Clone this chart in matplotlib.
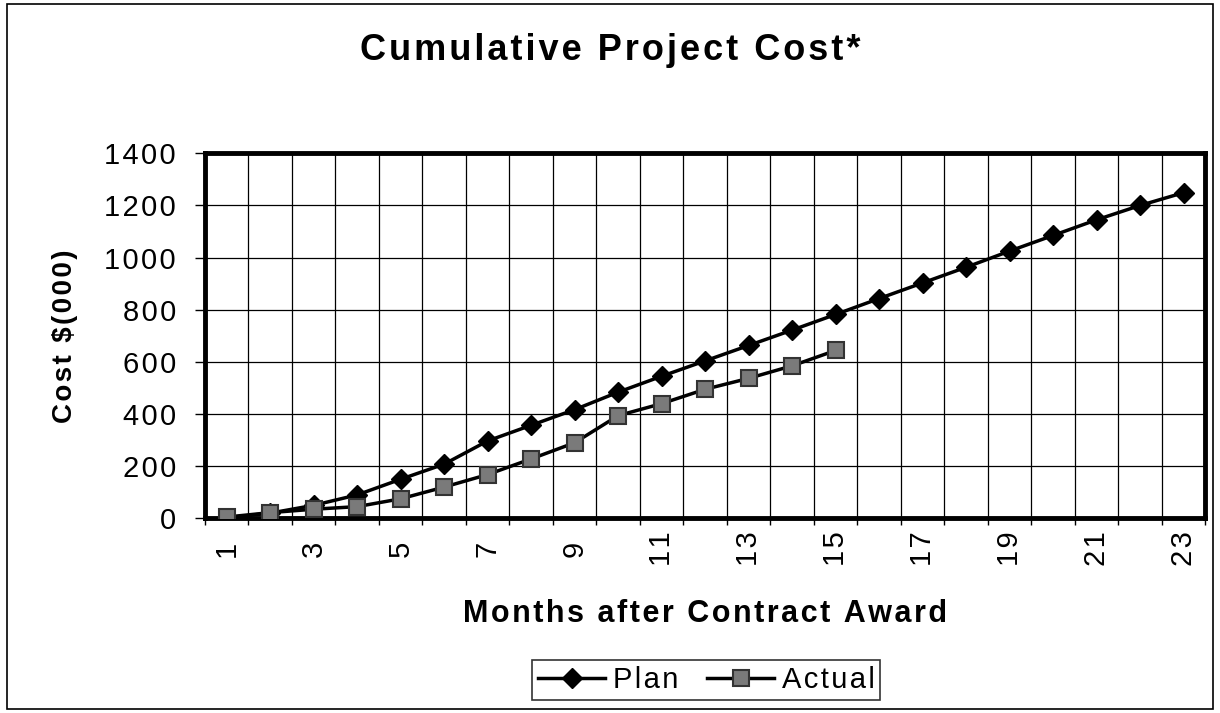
import numpy as np
import matplotlib
matplotlib.use("Agg")
import matplotlib.pyplot as plt
from matplotlib.patches import Rectangle
from matplotlib.ticker import FixedLocator, NullFormatter

# --- data ---
months = list(range(1, 24))
plan = [2, 20, 50, 90, 150, 208, 297, 357, 417, 484, 545, 604, 663, 722, 782,
        843, 903, 963, 1025, 1085, 1145, 1200, 1249]
actual = [5, 22, 35, 45, 75, 120, 168, 228, 290, 394, 440, 495, 537, 585, 644]
y_ticks = [0, 200, 400, 600, 800, 1000, 1200, 1400]

plt.rcParams['font.family'] = ['Liberation Sans', 'DejaVu Sans']

# the original uses slightly tracked lettering; fake it with a hair space between letters
HAIR = '\u200a'


def track(s, gap=HAIR):
    return gap.join(s)


fig = plt.figure(figsize=(12.2, 7.13), dpi=100)
ax = fig.add_axes([0.168, 0.273, 0.820, 0.512])

ax.plot(months, plan, color='black', lw=2.5, marker='D', ms=10.5,
        mfc='black', mec='black', label=track('Plan'), zorder=4)
ax.plot(months[:len(actual)], actual, color='black', lw=2.5, marker='s', ms=11,
        mfc='#7a7a7a', mec='#333333', mew=1.5, label=track('Actual'), zorder=5)

ax.set_xlim(0.5, len(months) + 0.5)
ax.set_ylim(0, 1400)

# category labels in the middle, grid/ticks on the boundaries
ax.xaxis.set_major_locator(FixedLocator(months))
ax.set_xticklabels([track(str(m)) if m % 2 == 1 else '' for m in months],
                   rotation=90, fontsize=21)
for lbl in ax.get_xticklabels():
    lbl.set_va('center')
ax.xaxis.set_minor_locator(FixedLocator(np.arange(0.5, len(months) + 1, 1)))
ax.xaxis.set_minor_formatter(NullFormatter())
ax.tick_params(axis='x', which='major', length=0, pad=22)
ax.tick_params(axis='x', which='minor', length=5, width=1, color='black')

ax.set_yticks(y_ticks)
ax.set_yticklabels([track(str(v)) for v in y_ticks])
ax.tick_params(axis='y', which='major', length=7, width=1, labelsize=21, pad=14)

ax.grid(True, which='minor', axis='x', color='black', lw=0.9)
ax.grid(True, which='major', axis='y', color='black', lw=0.9)
ax.set_axisbelow(True)

for s in ax.spines.values():
    s.set_linewidth(3.5)
    s.set_color('black')

ax.set_xlabel(track('Months after Contract Award'), fontsize=22,
              fontweight='bold', va='baseline')
ax.xaxis.set_label_coords(0.5, -0.285)
ax.set_ylabel(track('Cost $(000)'), fontsize=20, fontweight='bold')
ax.yaxis.set_label_coords(-0.127, 0.5)

fig.text(0.5, 0.916, track('Cumulative Project Cost*'), ha='center',
         va='baseline', fontsize=26, fontweight='bold')

leg = fig.legend(loc='center', bbox_to_anchor=(0.579, 0.046), ncol=2,
                 fontsize=21, frameon=True, fancybox=False, handlelength=2.3,
                 handletextpad=0.25, columnspacing=1.0, borderpad=0.2,
                 borderaxespad=0)
leg.get_frame().set_edgecolor('black')
leg.get_frame().set_linewidth(1.2)

# thin outer border around the whole chart
fig.patches.append(Rectangle((0.006, 0.005), 0.988, 0.99, transform=fig.transFigure,
                             fill=False, edgecolor='black', lw=1.2))

fig.savefig('out.png', dpi=100)
